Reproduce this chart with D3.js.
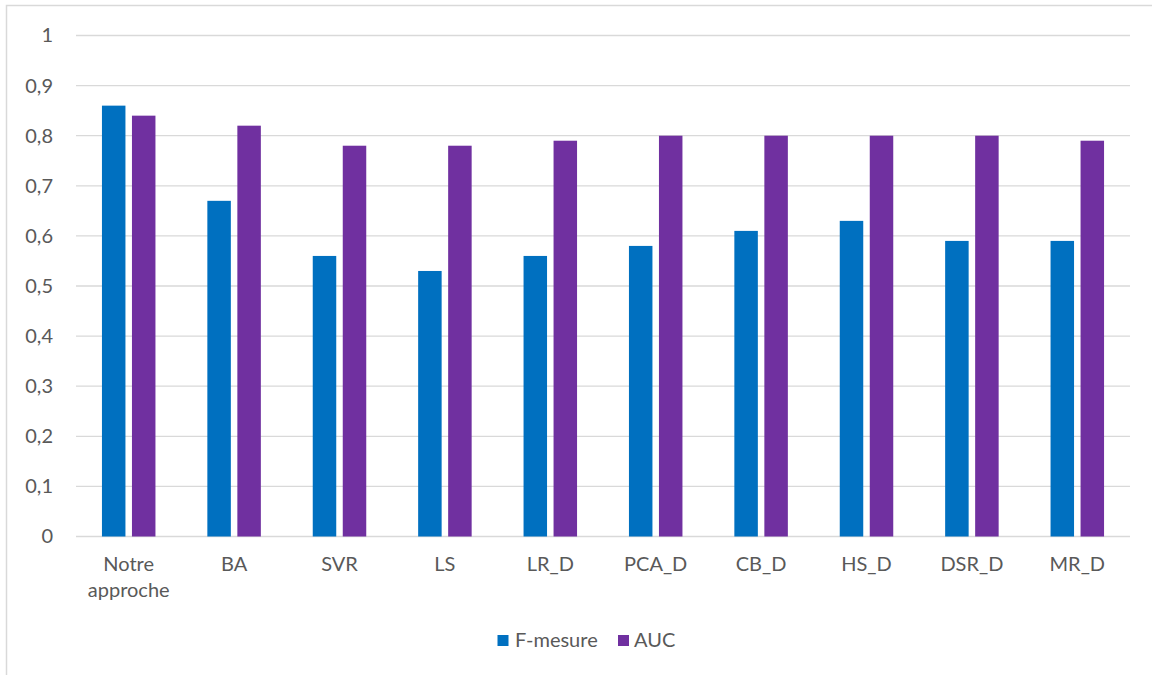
<!DOCTYPE html>
<html>
<head>
<meta charset="utf-8">
<script src="https://cdn.jsdelivr.net/npm/d3@7"></script>
<style>
  html, body { margin: 0; padding: 0; background: #fff; }
  svg { display: block; }
  text { font-family: Lato, "Open Sans", sans-serif; fill: #595959; }
</style>
</head>
<body>
<svg id="chart" width="1152" height="675"></svg>
<script>
// Method names and scores
const categories = ["Notre approche", "BA", "SVR", "LS", "LR_D", "PCA_D", "CB_D", "HS_D", "DSR_D", "MR_D"];
const series = ["F-mesure", "AUC"];
const fMesure = [0.86, 0.67, 0.56, 0.53, 0.56, 0.58, 0.61, 0.63, 0.59, 0.59];
const auc = [0.84, 0.82, 0.78, 0.78, 0.79, 0.80, 0.80, 0.80, 0.80, 0.79];
const yTicks = [0, 0.1, 0.2, 0.3, 0.4, 0.5, 0.6, 0.7, 0.8, 0.9, 1];
const colors = ["#0070C0", "#7030A0"];

const valuesBySeries = [fMesure, auc];

const svg = d3.select("#chart");
const plot = { left: 76, right: 1130, top: 35.5, bottom: 536.5 };

// Outer frame (runs off the right and bottom edges)
svg.append("rect")
  .attr("x", 6.5).attr("y", 5.5)
  .attr("width", 1200).attr("height", 700)
  .attr("fill", "none").attr("stroke", "#d9d9d9").attr("stroke-width", 1.5);

const x0 = d3.scaleBand().domain(categories).range([plot.left, plot.right]).padding(0);
const groupWidth = x0.bandwidth() * 0.5076;
const x1 = d3.scaleBand().domain(series).range([0, groupWidth]).paddingInner(0.217).paddingOuter(0);
const y = d3.scaleLinear().domain([0, 1]).range([plot.bottom, plot.top]);

// Horizontal gridlines
svg.append("g").selectAll("line").data(yTicks).join("line")
  .attr("x1", plot.left).attr("x2", plot.right)
  .attr("y1", d => y(d)).attr("y2", d => y(d))
  .attr("stroke", "#d9d9d9").attr("stroke-width", 1.3);

// Y axis labels
const yAxis = d3.axisLeft(y).tickValues(yTicks).tickSize(0).tickPadding(0)
  .tickFormat(d => String(d).replace(".", ","));
const gy = svg.append("g").attr("transform", `translate(53,0)`).call(yAxis);
gy.select(".domain").remove();
gy.selectAll("text").style("font-size", "20px").attr("fill", "#595959")
  .style("font-family", "Lato, 'Open Sans', sans-serif");

// Bars
const groups = svg.append("g").selectAll("g").data(categories).join("g")
  .attr("transform", c => `translate(${x0(c) + (x0.bandwidth() - groupWidth) / 2},0)`);

groups.selectAll("rect")
  .data((c, i) => series.map((s, k) => ({ s, k, v: valuesBySeries[k][i] })))
  .join("rect")
  .attr("x", d => x1(d.s))
  .attr("width", x1.bandwidth())
  .attr("y", d => y(d.v))
  .attr("height", d => y(0) - y(d.v))
  .attr("fill", d => colors[d.k]);

// Category labels (wrapped on spaces)
const labels = svg.append("g").selectAll("text").data(categories).join("text")
  .attr("x", c => x0(c) + x0.bandwidth() / 2)
  .attr("y", 571)
  .attr("text-anchor", "middle")
  .style("font-size", "20px");
labels.each(function(c) {
  const words = c.split(" ");
  const t = d3.select(this);
  words.forEach((w, i) => {
    t.append("tspan")
      .attr("x", x0(c) + x0.bandwidth() / 2)
      .attr("dy", i === 0 ? 0 : 26)
      .text(w);
  });
});

// Legend
const legend = [
  { name: series[0], color: colors[0], sx: 497.5, tx: 515 },
  { name: series[1], color: colors[1], sx: 618, tx: 634 }
];
const lg = svg.append("g").selectAll("g").data(legend).join("g");
lg.append("rect")
  .attr("x", d => d.sx).attr("y", 635)
  .attr("width", 11).attr("height", 11)
  .attr("fill", d => d.color);
lg.append("text")
  .attr("x", d => d.tx).attr("y", 647)
  .style("font-size", "20px")
  .text(d => d.name);
</script>
</body>
</html>
